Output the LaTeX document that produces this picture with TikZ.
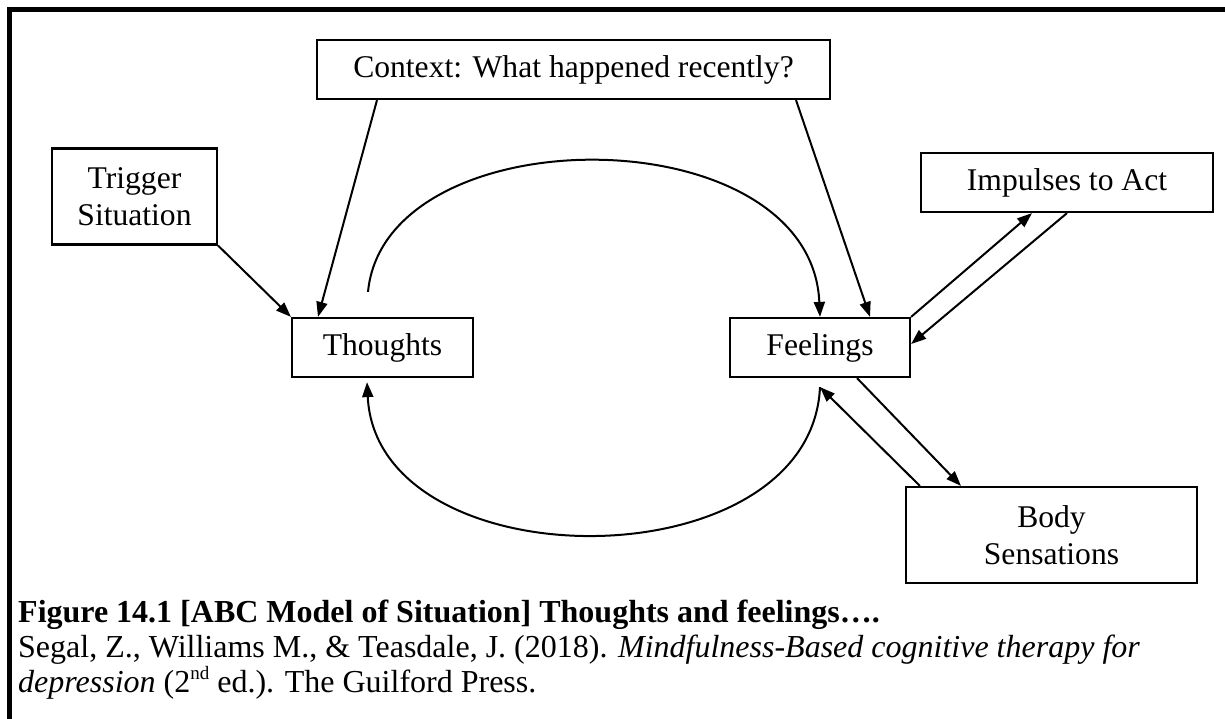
\documentclass[tikz,border=0pt]{standalone}
\usepackage{fontspec}
\setmainfont{Liberation Serif}
\usetikzlibrary{arrows.meta}

\begin{document}
\begin{tikzpicture}[x=1pt,y=-1pt,
  box/.style={draw, line width=2.2pt, inner sep=0pt, align=center, font=\fontsize{31.6}{37}\selectfont},
  arr/.style={line width=2pt, -{Triangle[length=15pt,width=11pt]}},
  capt/.style={anchor=base west, inner sep=0pt, font=\fontsize{32}{35}\selectfont}]
\useasboundingbox (0,0) rectangle (1225,719);
\draw[line width=4.5pt] (9.5,719) -- (9.5,9.5) -- (1225,9.5);

\node[box, minimum width=513pt, minimum height=59pt] (context) at (573.5,69.5) {Context: What happened recently?};
\node[box, minimum width=165pt, minimum height=96pt] (trigger) at (134.5,196.5) {Trigger\\Situation};
\node[box, minimum width=181pt, minimum height=59pt] (thoughts) at (382.5,347.5) {Thoughts};
\node[box, minimum width=180pt, minimum height=59pt] (feelings) at (820,347.5) {Feelings};
\node[box, minimum width=292pt, minimum height=59pt] (impulses) at (1067,182.5) {Impulses to Act};
\node[box, minimum width=291pt, minimum height=96pt] (body) at (1051.5,535) {Body\\Sensations};

\draw[arr] (trigger.south east) -- (thoughts.north west);
\draw[arr] ([xshift=-196.5pt]context.south) -- ([xshift=-64.5pt]thoughts.north);
\draw[arr] ([xshift=222.5pt]context.south) -- ([xshift=50pt]feelings.north);
\draw[arr] ([xshift=-14.5pt,yshift=25pt]thoughts.north) .. controls +(17,-178) and +(-9,-203) .. (feelings.north);
\draw[arr] ([yshift=-9pt]feelings.south) .. controls +(-9,197) and +(10,202) .. ([xshift=-15.5pt,yshift=-4pt]thoughts.south);
\draw[arr] (feelings.north east) -- ([xshift=-35pt]impulses.south);
\draw[arr] (impulses.south) -- ([yshift=3.5pt]feelings.east);
\draw[arr] ([xshift=37pt]feelings.south) -- ([xshift=-90.5pt]body.north);
\draw[arr] ([xshift=15pt]body.north west) -- ([yshift=-9pt]feelings.south);

\node[capt] (title) at (18,622) {\bfseries Figure 14.1 [ABC Model of Situation] Thoughts and feelings….};
\node[capt] (ref) at (18,657) {Segal, Z., Williams M., \& Teasdale, J. (2018). \textit{Mindfulness-Based cognitive therapy for}};
\node[capt] (refb) at (18,692) {\textit{depression} (2\raisebox{0.4em}{\fontsize{19}{19}\selectfont nd} ed.). The Guilford Press.};
\end{tikzpicture}
\end{document}
